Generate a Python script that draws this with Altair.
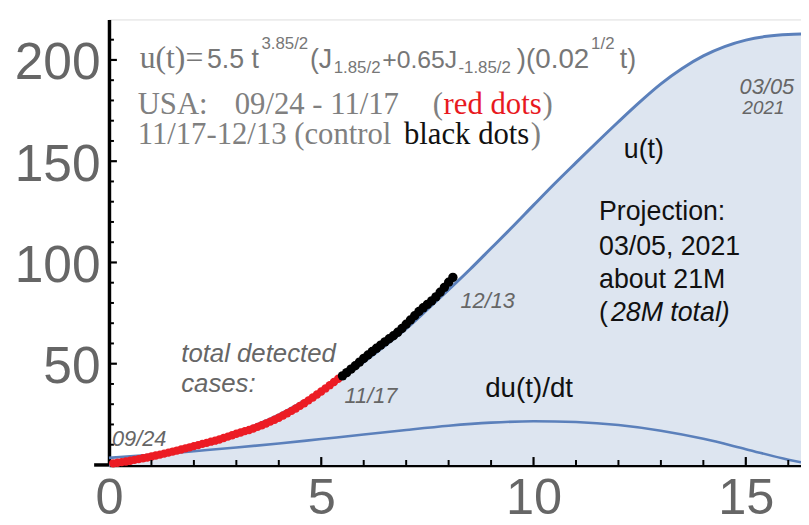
import altair as alt
import pandas as pd

# ---------------- data ----------------
# u(t) model curve
t_u = [0, 0.5, 1, 1.5, 2, 2.5, 3, 3.5, 4, 4.5, 5, 5.5, 6, 6.5, 7, 7.5, 8, 8.5,
       9, 9.5, 10, 10.5, 11, 11.5, 12, 12.5, 13, 13.5, 14, 14.5, 15, 15.5, 16, 16.3]
u_vals = [0, 1.9, 4.1, 6.6, 9.4, 12.5, 16.0, 20.0, 24.8, 30.5, 36.5, 43.2, 50.8, 58.8,
          67.3, 76.8, 86.5, 96.5, 107.0, 117.5, 128.3, 139.0, 149.3, 159.5, 169.5, 179.2,
          188.2, 195.8, 202.0, 206.6, 209.8, 211.7, 212.6, 212.8]

# du(t)/dt curve
t_du = [0, 1, 2, 3, 4, 5, 6, 7, 8, 9, 10, 11, 12, 13, 14, 15, 16, 16.3]
du_vals = [3.5, 5.0, 6.8, 8.6, 10.6, 12.8, 15.0, 17.3, 19.4, 20.9, 21.6, 21.2, 19.7,
           16.9, 12.9, 7.8, 2.6, 1.3]

# daily observations, t = days / 10 (09/24 -> 0.1)
t_red = [0.1, 0.2, 0.3, 0.4, 0.5, 0.6, 0.7, 0.8, 0.9, 1.0, 1.1, 1.2, 1.3, 1.4, 1.5, 1.6,
         1.7, 1.8, 1.9, 2.0, 2.1, 2.2, 2.3, 2.4, 2.5, 2.6, 2.7, 2.8, 2.9, 3.0, 3.1, 3.2,
         3.3, 3.4, 3.5, 3.6, 3.7, 3.8, 3.9, 4.0, 4.1, 4.2, 4.3, 4.4, 4.5, 4.6, 4.7, 4.8,
         4.9, 5.0, 5.1, 5.2, 5.3, 5.4, 5.5]
red_vals = [0.8, 1.1, 1.4, 1.7, 2.1, 2.5, 2.9, 3.3, 3.7, 4.2, 4.7, 5.1, 5.6, 6.1, 6.6, 7.1,
            7.6, 8.2, 8.7, 9.3, 9.8, 10.4, 10.9, 11.5, 12.0, 12.6, 13.3, 14.0, 14.7, 15.4,
            16.0, 16.7, 17.3, 18.0, 18.8, 19.6, 20.5, 21.4, 22.3, 23.3, 24.4, 25.5, 26.7,
            27.9, 29.2, 30.5, 31.9, 33.3, 34.8, 36.3, 37.8, 39.4, 41.0, 42.6, 44.0]
t_black = [5.5, 5.6, 5.7, 5.8, 5.9, 6.0, 6.1, 6.2, 6.3, 6.4, 6.5, 6.6, 6.7, 6.8, 6.9, 7.0,
           7.1, 7.2, 7.3, 7.4, 7.5, 7.6, 7.7, 7.8, 7.9, 8.0, 8.1]
black_vals = [44.0, 45.6, 47.3, 49.0, 50.8, 52.6, 54.3, 56.0, 57.6, 59.2, 60.8, 62.3, 63.8,
              65.5, 67.4, 69.5, 71.6, 73.7, 75.8, 77.6, 79.3, 81.0, 83.0, 85.3, 87.7,
              90.2, 92.6]

x_major = [0, 5, 10, 15]
x_minor = [1, 2, 3, 4, 6, 7, 8, 9, 11, 12, 13, 14, 16]
y_major = [50, 100, 150, 200]
y_minor = [10, 20, 30, 40, 60, 70, 80, 90, 110, 120, 130, 140, 160, 170, 180, 190, 210]

# ---------------- layout ----------------
W, H = 699, 450
XMAX, YMAX = 16.3, 220
SANS = "Liberation Sans"
SERIF = "Liberation Serif"
BLUE = "#5b80bb"
FILL = "#dde5f0"
GRAY = "#666666"


def T(px):  # page pixel -> data x
    return (px - 110) / (W / XMAX)


def V(py):  # page pixel -> data y
    return (467 - py) / (H / YMAX)


xs = alt.Scale(domain=[0, XMAX], nice=False, zero=False)
ys = alt.Scale(domain=[0, YMAX], nice=False, zero=False)

u_df = pd.DataFrame({"t": t_u, "v": u_vals})
du_df = pd.DataFrame({"t": t_du, "v": du_vals})
red_df = pd.DataFrame({"t": t_red, "v": red_vals})
black_df = pd.DataFrame({"t": t_black, "v": black_vals})

xaxis = alt.Axis(values=x_major, title=None, grid=False, ticks=False, tickSize=0,
                 labelFontSize=51, labelColor=GRAY, labelFont=SANS, labelPadding=9,
                 domainColor="black", domainWidth=3.5, labelFlush=False)
yaxis = alt.Axis(values=y_major, title=None, grid=False, ticks=False, tickSize=0,
                 labelFontSize=52, labelColor=GRAY, labelFont=SANS, labelPadding=9,
                 labelOffset=3, domainColor="black", domainWidth=3.5)

area = alt.Chart(u_df).mark_area(color=FILL, interpolate="monotone").encode(
    x=alt.X("t:Q", scale=xs, axis=xaxis),
    y=alt.Y("v:Q", scale=ys, axis=yaxis),
)
du_line = alt.Chart(du_df).mark_line(color=BLUE, strokeWidth=2.6, interpolate="monotone").encode(
    x=alt.X("t:Q", scale=xs), y=alt.Y("v:Q", scale=ys))
u_line = alt.Chart(u_df).mark_line(color=BLUE, strokeWidth=3, interpolate="monotone").encode(
    x=alt.X("t:Q", scale=xs), y=alt.Y("v:Q", scale=ys))
red = alt.Chart(red_df).mark_circle(color="#ec1c24", opacity=1, size=72).encode(
    x=alt.X("t:Q", scale=xs), y=alt.Y("v:Q", scale=ys))
black = alt.Chart(black_df).mark_circle(color="#000000", opacity=1, size=90).encode(
    x=alt.X("t:Q", scale=xs), y=alt.Y("v:Q", scale=ys))

# inward ticks
xmaj = alt.Chart(pd.DataFrame({"t": x_major[1:]})).mark_rule(color="black", strokeWidth=2.2).encode(
    x=alt.X("t:Q", scale=xs), y=alt.value(H), y2=alt.value(H - 8))
xmin = alt.Chart(pd.DataFrame({"t": x_minor})).mark_rule(color="black", strokeWidth=2).encode(
    x=alt.X("t:Q", scale=xs), y=alt.value(H), y2=alt.value(H - 5))
ymaj = alt.Chart(pd.DataFrame({"v": y_major})).mark_rule(color="black", strokeWidth=2.2).encode(
    y=alt.Y("v:Q", scale=ys), x=alt.value(0), x2=alt.value(8))
ymin = alt.Chart(pd.DataFrame({"v": y_minor})).mark_rule(color="black", strokeWidth=2).encode(
    y=alt.Y("v:Q", scale=ys), x=alt.value(0), x2=alt.value(5))
xext = alt.Chart(pd.DataFrame({"a": [0]})).mark_rule(color="black", strokeWidth=3.5).encode(
    x=alt.value(-15), x2=alt.value(0), y=alt.value(H))

# annotations: (text, left px, baseline px, size, colour) in page pixels
serif_txt = [
    ("u(t)=", 141, 66, 32, "#777777"),
    ("USA:", 139, 112, 31, "#808080"),
    ("09/24 - 11/17", 237, 112, 31, "#808080"),
    ("(", 437, 112, 31, "#808080"),
    ("red dots", 448, 112, 31, "#e8191f"),
    (")", 548, 112, 31, "#808080"),
    ("11/17-12/13 (control", 139, 143, 31, "#808080"),
    ("black dots", 408, 143, 31, "#111111"),
    (")", 536, 143, 31, "#808080"),
]
sans_txt = [
    ("5.5 t", 209, 66, 27, "#777777"),
    ("3.85/2", 264, 47, 17, "#777777"),
    ("(J", 313, 66, 27, "#777777"),
    ("1.85/2", 337, 71, 17, "#777777"),
    ("+0.65J", 386, 66, 25, "#777777"),
    ("-1.85/2", 463, 71, 17, "#777777"),
    (")(0.02", 522, 66, 28, "#777777"),
    ("1/2", 597, 47, 17, "#777777"),
    ("t)", 626, 66, 27, "#777777"),
    ("u(t)", 630, 157, 27, "#111111"),
    ("du(t)/dt", 490, 398, 28, "#111111"),
    ("Projection:", 605, 220, 27, "#111111"),
    ("03/05, 2021", 605, 255, 27, "#111111"),
    ("about 21M", 605, 288, 27, "#111111"),
    ("(", 605, 322, 27, "#111111"),
]
italic_txt = [
    ("28M total)", 617, 322, 27, "#111111"),
    ("03/05", 747, 92, 22, GRAY),
    ("2021", 750, 113, 19, GRAY),
    ("12/13", 465, 308, 22, GRAY),
    ("11/17", 348, 404, 22, GRAY),
    ("total detected", 183, 363, 26, GRAY),
    ("cases:", 183, 393, 26, GRAY),
    ("09/24", 113, 448, 22, GRAY),
]


def text_layer(items, font, style="normal"):
    df = pd.DataFrame({
        "text": [i[0] for i in items],
        "x": [T(i[1]) for i in items],
        "y": [V(i[2]) for i in items],
        "size": [i[3] for i in items],
        "color": [i[4] for i in items],
    })
    return alt.Chart(df).mark_text(font=font, fontStyle=style, align="left",
                                   baseline="alphabetic").encode(
        x=alt.X("x:Q", scale=xs), y=alt.Y("y:Q", scale=ys), text="text:N",
        size=alt.Size("size:Q", scale=None, legend=None),
        color=alt.Color("color:N", scale=None, legend=None))


chart = alt.layer(
    area, du_line, u_line, red, black, xmaj, xmin, ymaj, ymin, xext,
    text_layer(serif_txt, SERIF), text_layer(sans_txt, SANS),
    text_layer(italic_txt, SANS, "italic"),
).properties(
    width=W, height=H,
    padding={"left": 102, "top": 9, "right": 0, "bottom": 50},
    autosize=alt.AutoSizeParams(type="none"),
).configure_view(stroke=None).configure(background="white")

chart.save("out.html", embed_options={"renderer": "svg", "actions": False})
